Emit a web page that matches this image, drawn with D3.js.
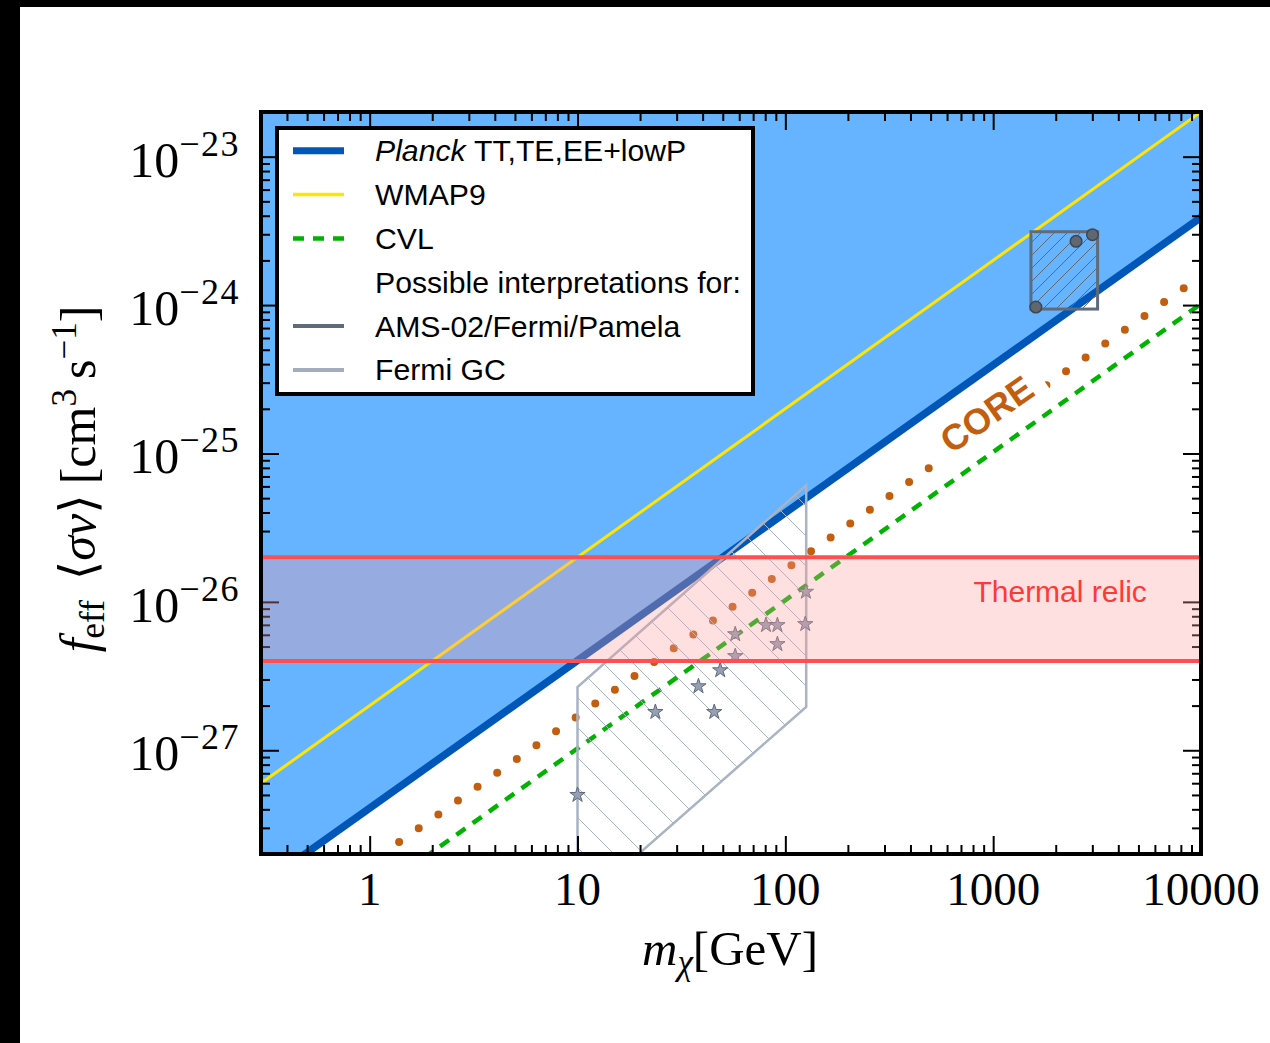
<!DOCTYPE html>
<html>
<head>
<meta charset="utf-8">
<script src="https://cdn.jsdelivr.net/npm/d3@7"></script>
<style>
  body { margin: 0; background: #fff; }
  svg { display: block; }
</style>
</head>
<body>
<svg id="chart" width="1270" height="1043"></svg>
<script>
// ---- values ----
var massRange = [0.3, 10000];          // GeV
var svRange = [2e-28, 2e-23];          // cm^3 s^-1

// straight lines in log-log, given by their two end points [m, f<sv>]
var planckLine = [[0.3, 1.23e-28], [10000, 3.9e-24]];
var wmapLine   = [[0.3, 6.0e-28],  [10000, 2.0e-23]];
var cvlLine    = [[0.3, 3.1e-29],  [10000, 1.02e-24]];
var coreLine   = [[0.3, 5.3e-29],  [10000, 1.57e-24]];

var thermalBand = [4e-27, 2e-26];

var fermiGCRegion = [[10, 8.7e-29], [10, 2.67e-27], [126, 6.1e-26], [126, 1.96e-27]];
var fermiGCStars = [
  [10, 5.0e-28], [23.7, 1.81e-27], [38.2, 2.70e-27], [45.5, 1.81e-27],
  [48.6, 3.46e-27], [57.4, 4.31e-27], [57.4, 6.05e-27], [80.7, 6.97e-27],
  [91.6, 6.97e-27], [91.6, 5.19e-27], [124.7, 7.08e-27], [125.6, 1.17e-26]
];

var amsBox = [[1520, 9.4e-25], [3180, 3.12e-24]];
var amsPoints = [[1605, 9.7e-25], [2506, 2.69e-24], [3005, 2.98e-24]];

var xMajor = [1, 10, 100, 1000, 10000];
var xMajorLabels = ["1", "10", "100", "1000", "10000"];
var yMajor = [1e-27, 1e-26, 1e-25, 1e-24, 1e-23];
var yMajorExp = ["\u221227", "\u221226", "\u221225", "\u221224", "\u221223"];

var legendKeys = ["planck", "wmap", "cvl", "note", "ams", "gc"];
var legendLabels = ["TT,TE,EE+lowP", "WMAP9", "CVL", "Possible interpretations for:", "AMS-02/Fermi/Pamela", "Fermi GC"];

// ---- layout ----
var W = 1270, H = 1043;
var plot = {left: 261, right: 1201, top: 112, bottom: 854};
var serif = "'Liberation Serif', 'DejaVu Serif', serif";
var sans = "'Liberation Sans', Arial, sans-serif";

var x = d3.scaleLog().domain(massRange).range([plot.left, plot.right]);
var y = d3.scaleLog().domain(svRange).range([plot.bottom, plot.top]);

var svg = d3.select("#chart");
svg.append("rect").attr("width", W).attr("height", H).attr("fill", "#fff");

var defs = svg.append("defs");
defs.append("clipPath").attr("id", "plotClip").append("rect")
    .attr("x", plot.left).attr("y", plot.top)
    .attr("width", plot.right - plot.left).attr("height", plot.bottom - plot.top);

// hatch patterns
var gcHatch = defs.append("pattern").attr("id", "gcHatch")
    .attr("patternUnits", "userSpaceOnUse").attr("width", 30).attr("height", 30);
gcHatch.append("path").attr("d", "M-1,-1L31,31M29,-1L31,1M-1,29L1,31")
    .attr("stroke", "#a9b3c3").attr("stroke-width", 1).attr("fill", "none");

var amsHatch = defs.append("pattern").attr("id", "amsHatch")
    .attr("patternUnits", "userSpaceOnUse").attr("width", 13).attr("height", 13);
amsHatch.append("path").attr("d", "M-1,14L14,-1M-1,1L1,-1M12,14L14,12")
    .attr("stroke", "#5f6b7a").attr("stroke-width", 1).attr("fill", "none");

var line = d3.line().x(function(d) { return x(d[0]); }).y(function(d) { return y(d[1]); });

var g = svg.append("g").attr("clip-path", "url(#plotClip)");

// excluded region above Planck
var area = d3.area()
    .x(function(d) { return x(d[0]); })
    .y0(y(svRange[1]) - 10)
    .y1(function(d) { return y(d[1]); });
g.append("path").datum(planckLine).attr("d", area).attr("fill", "#66b3ff");

g.append("path").datum(planckLine).attr("d", line)
    .attr("stroke", "#0057b8").attr("stroke-width", 7.5).attr("fill", "none");
g.append("path").datum(wmapLine).attr("d", line)
    .attr("stroke", "#ffe600").attr("stroke-width", 3).attr("fill", "none");
g.append("path").datum(cvlLine).attr("d", line)
    .attr("stroke", "#00b300").attr("stroke-width", 4.5).attr("fill", "none")
    .attr("stroke-dasharray", "11 9");

// CORE forecast, dotted
g.append("path").datum(coreLine).attr("d", line)
    .attr("stroke", "#c25e10").attr("stroke-width", 8).attr("fill", "none")
    .attr("stroke-linecap", "round")
    .attr("stroke-dasharray", "0 24.01").attr("stroke-dashoffset", -1.0);

// CORE label with white box
var coreAngle = Math.atan2(y(coreLine[1][1]) - y(coreLine[0][1]), x(coreLine[1][0]) - x(coreLine[0][0])) * 180 / Math.PI;
var coreLab = g.append("g")
    .attr("transform", "translate(" + x(930) + "," + y(1.85e-25) + ") rotate(" + coreAngle + ")");
coreLab.append("rect").attr("x", -70).attr("y", -21).attr("width", 136).attr("height", 40).attr("fill", "#fff");
coreLab.append("text").attr("text-anchor", "middle").attr("dy", "0.36em")
    .attr("font-family", sans).attr("font-weight", "bold").attr("font-size", 36)
    .attr("fill", "#c25e10").text("CORE");

// Fermi GC region
g.append("path").datum(fermiGCRegion).attr("d", function(d) { return line(d) + "Z"; })
    .attr("fill", "url(#gcHatch)").attr("stroke", "#a9b3c3").attr("stroke-width", 2.5);

g.selectAll(".star").data(fermiGCStars).enter().append("path")
    .attr("class", "star")
    .attr("d", d3.symbol().type(d3.symbolStar).size(72))
    .attr("transform", function(d) { return "translate(" + x(d[0]) + "," + y(d[1]) + ")"; })
    .attr("fill", "#95a0b5").attr("stroke", "#5e687c").attr("stroke-width", 1);

// AMS-02 / Fermi / Pamela box
g.append("rect")
    .attr("x", x(amsBox[0][0])).attr("y", y(amsBox[1][1]))
    .attr("width", x(amsBox[1][0]) - x(amsBox[0][0]))
    .attr("height", y(amsBox[0][1]) - y(amsBox[1][1]))
    .attr("fill", "url(#amsHatch)").attr("stroke", "#5f6b7a").attr("stroke-width", 3);
g.selectAll(".ams").data(amsPoints).enter().append("circle")
    .attr("class", "ams")
    .attr("cx", function(d) { return x(d[0]); }).attr("cy", function(d) { return y(d[1]); })
    .attr("r", 5.8).attr("fill", "#5f6872").attr("stroke", "#3f4650").attr("stroke-width", 1.5);

// ---- ticks (inward on all four sides) ----
var xMinor = x.ticks().filter(function(v) { return xMajor.indexOf(v) < 0; });
var yMinor = y.ticks().filter(function(v) {
  return !yMajor.some(function(m) { return Math.abs(m - v) / m < 1e-6; });
});

function ticks(axisFn, scale, values, size, tx, ty) {
  svg.append("g").attr("transform", "translate(" + tx + "," + ty + ")")
      .call(axisFn(scale).tickValues(values).tickSize(size).tickFormat(""))
      .call(function(a) { a.select(".domain").remove(); })
      .selectAll("line").attr("stroke", "#000").attr("stroke-width", 2);
}
ticks(d3.axisBottom, x, xMajor, -18, 0, plot.bottom);
ticks(d3.axisBottom, x, xMinor, -9, 0, plot.bottom);
ticks(d3.axisTop, x, xMajor, -18, 0, plot.top);
ticks(d3.axisTop, x, xMinor, -9, 0, plot.top);
ticks(d3.axisLeft, y, yMajor, -18, plot.left, 0);
ticks(d3.axisLeft, y, yMinor, -9, plot.left, 0);
ticks(d3.axisRight, y, yMajor, -18, plot.right, 0);
ticks(d3.axisRight, y, yMinor, -9, plot.right, 0);

// thermal relic band, drawn on top with transparency
svg.append("rect")
    .attr("x", plot.left).attr("width", plot.right - plot.left)
    .attr("y", y(thermalBand[1])).attr("height", y(thermalBand[0]) - y(thermalBand[1]))
    .attr("fill", "#ff9c9c").attr("fill-opacity", 0.314);
svg.selectAll(".bandEdge").data(thermalBand).enter().append("line")
    .attr("class", "bandEdge")
    .attr("x1", plot.left).attr("x2", plot.right)
    .attr("y1", function(d) { return y(d); }).attr("y2", function(d) { return y(d); })
    .attr("stroke", "#ff4f4f").attr("stroke-width", 4);
svg.append("text")
    .attr("x", x(2100)).attr("y", y(1e-26))
    .attr("text-anchor", "middle").attr("font-family", sans).attr("font-size", 30)
    .attr("fill", "#ff3838").text("Thermal relic");

// frame
svg.append("rect")
    .attr("x", plot.left).attr("y", plot.top)
    .attr("width", plot.right - plot.left).attr("height", plot.bottom - plot.top)
    .attr("fill", "none").attr("stroke", "#000").attr("stroke-width", 4);

// ---- tick labels ----
svg.selectAll(".xlab").data(xMajor).enter().append("text")
    .attr("class", "xlab")
    .attr("x", function(d) { return x(d); }).attr("y", plot.bottom + 51)
    .attr("text-anchor", "middle").attr("font-family", serif).attr("font-size", 47)
    .text(function(d, i) { return xMajorLabels[i]; });

var ylab = svg.selectAll(".ylab").data(yMajor).enter().append("text")
    .attr("class", "ylab")
    .attr("x", plot.left - 21).attr("y", function(d) { return y(d) + 20; })
    .attr("text-anchor", "end").attr("font-family", serif).attr("font-size", 50);
ylab.append("tspan").text("10");
ylab.append("tspan").attr("dy", -21).attr("font-size", 36).attr("letter-spacing", 1.5)
    .text(function(d, i) { return yMajorExp[i]; });

// ---- axis titles ----
var xt = svg.append("text")
    .attr("x", 730).attr("y", 965)
    .attr("text-anchor", "middle").attr("font-family", serif).attr("font-size", 49);
xt.append("tspan").attr("font-style", "italic").text("m");
xt.append("tspan").attr("dy", 9).attr("font-size", 35).attr("font-style", "italic").text("\u03c7");
xt.append("tspan").attr("dy", -9).text("[GeV]");

var yt = svg.append("text")
    .attr("transform", "translate(95,479) rotate(-90)")
    .attr("text-anchor", "middle").attr("font-family", serif).attr("font-size", 50);
yt.append("tspan").attr("font-style", "italic").text("f");
yt.append("tspan").attr("dy", 9).attr("font-size", 35).text("eff");
yt.append("tspan").attr("dy", -9).text("\u2009\u2009\u27e8");
yt.append("tspan").attr("font-style", "italic").text("\u03c3v");
yt.append("tspan").text("\u27e9\u2009[cm");
yt.append("tspan").attr("dy", -19).attr("font-size", 35).text("3");
yt.append("tspan").attr("dy", 19).text("\u2009s");
yt.append("tspan").attr("dy", -19).attr("font-size", 35).text("\u22121");
yt.append("tspan").attr("dy", 19).text("]");

// ---- legend ----
var legendStyle = {
  planck: {stroke: "#0057b8", width: 7},
  wmap:   {stroke: "#ffe600", width: 3.5},
  cvl:    {stroke: "#00b300", width: 4.5, dash: "11 9"},
  note:   null,
  ams:    {stroke: "#5f6b7a", width: 4},
  gc:     {stroke: "#a3adbd", width: 4}
};
var lg = svg.append("g");
lg.append("rect").attr("x", 277).attr("y", 128).attr("width", 476).attr("height", 266)
    .attr("fill", "#fff").attr("stroke", "#000").attr("stroke-width", 4);
var rows = lg.selectAll(".row").data(legendKeys).enter().append("g")
    .attr("class", "row")
    .attr("transform", function(d, i) { return "translate(0," + (150.7 + i * 43.85) + ")"; });
rows.filter(function(d) { return legendStyle[d]; }).append("line")
    .attr("x1", 293).attr("x2", 344)
    .attr("stroke", function(d) { return legendStyle[d].stroke; })
    .attr("stroke-width", function(d) { return legendStyle[d].width; })
    .attr("stroke-dasharray", function(d) { return legendStyle[d].dash || null; });
var rowText = rows.append("text").attr("x", 375).attr("y", 10.5)
    .attr("font-family", sans).attr("font-size", 30.2).attr("fill", "#000");
rowText.filter(function(d) { return d === "planck"; }).append("tspan")
    .attr("font-style", "italic").text("Planck ");
rowText.append("tspan").text(function(d, i) { return legendLabels[i]; });

// black strips along the left and top edges of the picture
svg.append("rect").attr("x", 0).attr("y", 0).attr("width", 20).attr("height", H).attr("fill", "#000");
svg.append("rect").attr("x", 0).attr("y", 0).attr("width", W).attr("height", 7).attr("fill", "#000");
</script>
</body>
</html>
